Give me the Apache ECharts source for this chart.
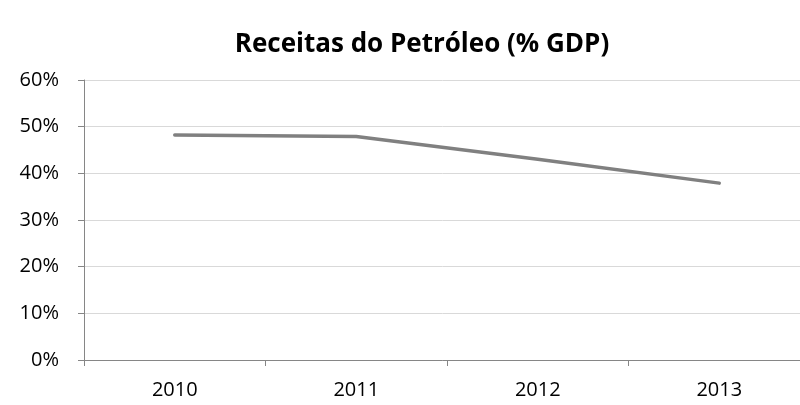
<!DOCTYPE html>
<html>
<head>
<meta charset="UTF-8">
<title>Receitas do Petróleo</title>
<script src="https://cdn.jsdelivr.net/npm/echarts@6/dist/echarts.min.js"></script>
<style>
  html, body { margin: 0; padding: 0; background: #fff; }
  #chart { width: 800px; height: 405px; }
</style>
</head>
<body>
<div id="chart"></div>
<script type="text/javascript">
    // dados
    var years = ['2010', '2011', '2012', '2013'];
    var receitas = [48.2, 47.9, 43.0, 37.9];   // % do GDP
    var yTicks = [0, 10, 20, 30, 40, 50, 60];

    var font = '"Open Sans", "Liberation Sans", sans-serif';
    var myChart = echarts.init(document.getElementById('chart'));

    var option = {
        animation: false,
        backgroundColor: '#fff',
        title: {
            text: 'Receitas do Petróleo (% GDP)',
            left: 417,
            top: 27,
            textAlign: 'center',
            textStyle: {
                fontFamily: font,
                fontWeight: 'bold',
                fontSize: 26,
                color: '#000'
            }
        },
        grid: {
            left: 84,
            right: -10,
            top: 80,
            bottom: 45,
            outerBoundsMode: 'none'
        },
        xAxis: {
            type: 'category',
            data: years,
            boundaryGap: true,
            axisLine: { lineStyle: { color: '#868686', width: 1 } },
            axisTick: { show: true, length: 6, lineStyle: { color: '#868686' } },
            axisLabel: {
                margin: 20,
                fontFamily: font,
                fontSize: 20,
                color: '#000'
            }
        },
        yAxis: {
            type: 'value',
            min: yTicks[0],
            max: yTicks[yTicks.length - 1],
            interval: 10,
            axisLine: { show: true, lineStyle: { color: '#868686', width: 1 } },
            axisTick: { show: true, length: 6, lineStyle: { color: '#868686' } },
            splitLine: { lineStyle: { color: '#d9d9d9', width: 1 } },
            axisLabel: {
                margin: 25,
                fontFamily: font,
                fontSize: 20,
                color: '#000',
                formatter: function (v) { return v + '%'; }
            }
        },
        series: [
            {
                name: 'Receitas',
                type: 'line',
                data: receitas,
                symbol: 'none',
                lineStyle: { color: '#808080', width: 3.5, cap: 'round' }
            }
        ]
    };
    myChart.setOption(option);
</script>
</body>
</html>
